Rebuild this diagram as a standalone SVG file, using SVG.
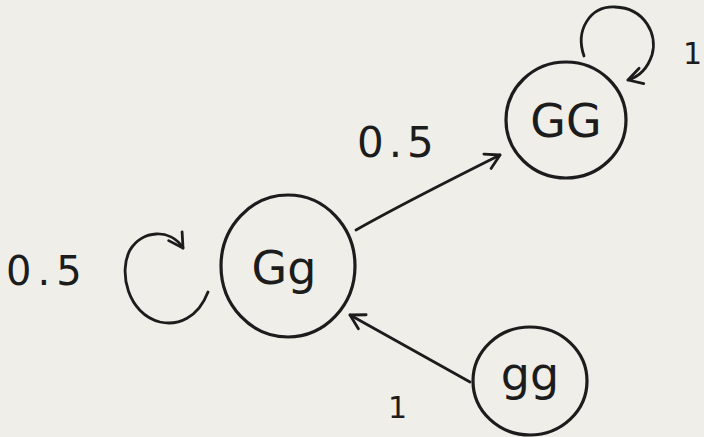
<svg xmlns="http://www.w3.org/2000/svg" width="704" height="437" viewBox="0 0 704 437">
  <style>
    .node { fill: none; stroke: #1c1c1c; stroke-width: 3.2; }
    .edge { fill: none; stroke: #1c1c1c; stroke-width: 2.8; stroke-linecap: round; stroke-linejoin: round; }
    .lbl { font-family: "DejaVu Sans", sans-serif; fill: #1c1c1c; }
    .nlbl { font-family: "DejaVu Sans", sans-serif; fill: #1c1c1c; font-size: 46px; text-anchor: middle; }
  </style>
  <defs>
    <marker id="arrow" viewBox="0 0 20 20" refX="17" refY="10" markerWidth="20" markerHeight="20" markerUnits="userSpaceOnUse" orient="auto">
      <path d="M3,2 L17,10 L3,18" fill="none" stroke="#1c1c1c" stroke-width="2.8" stroke-linecap="round" stroke-linejoin="round"/>
    </marker>
  </defs>
  <rect width="704" height="437" fill="#efeee9"/>

  <g id="connectors">
    <!-- Gg to GG -->
    <path class="edge" d="M356,230 C400,205 450,180 500,155" marker-end="url(#arrow)"/>
    <!-- gg to Gg -->
    <path class="edge" d="M470,382 C430,360 390,337 350,315" marker-end="url(#arrow)"/>
    <!-- self loop on GG -->
    <path class="edge" d="M584,56 C575,30 590,6 615,7 C645,8 658,35 652,55 C647,70 638,77 628,80" marker-end="url(#arrow)"/>
    <!-- self loop on Gg -->
    <path class="edge" d="M208,292 C198,318 178,326 160,322 C128,314 118,272 130,250 C142,230 170,228 183,248" marker-end="url(#arrow)"/>
  </g>

  <g id="node-GG">
    <ellipse class="node" cx="566" cy="120" rx="60" ry="58"/>
    <text class="nlbl" x="566" y="137">GG</text>
  </g>
  <g id="node-Gg">
    <ellipse class="node" cx="288" cy="266" rx="67" ry="71"/>
    <text class="nlbl" x="284" y="284">Gg</text>
  </g>
  <g id="node-gg">
    <ellipse class="node" cx="530" cy="381" rx="57" ry="54"/>
    <text class="nlbl" x="530" y="390">gg</text>
  </g>

  <g id="labels">
    <text class="lbl" x="357" y="157" font-size="42" letter-spacing="5">0.5</text>
    <text class="lbl" x="6" y="285" font-size="40" letter-spacing="6">0.5</text>
    <text class="lbl" x="683" y="64" font-size="30">1</text>
    <text class="lbl" x="388" y="418" font-size="30">1</text>
  </g>
</svg>
